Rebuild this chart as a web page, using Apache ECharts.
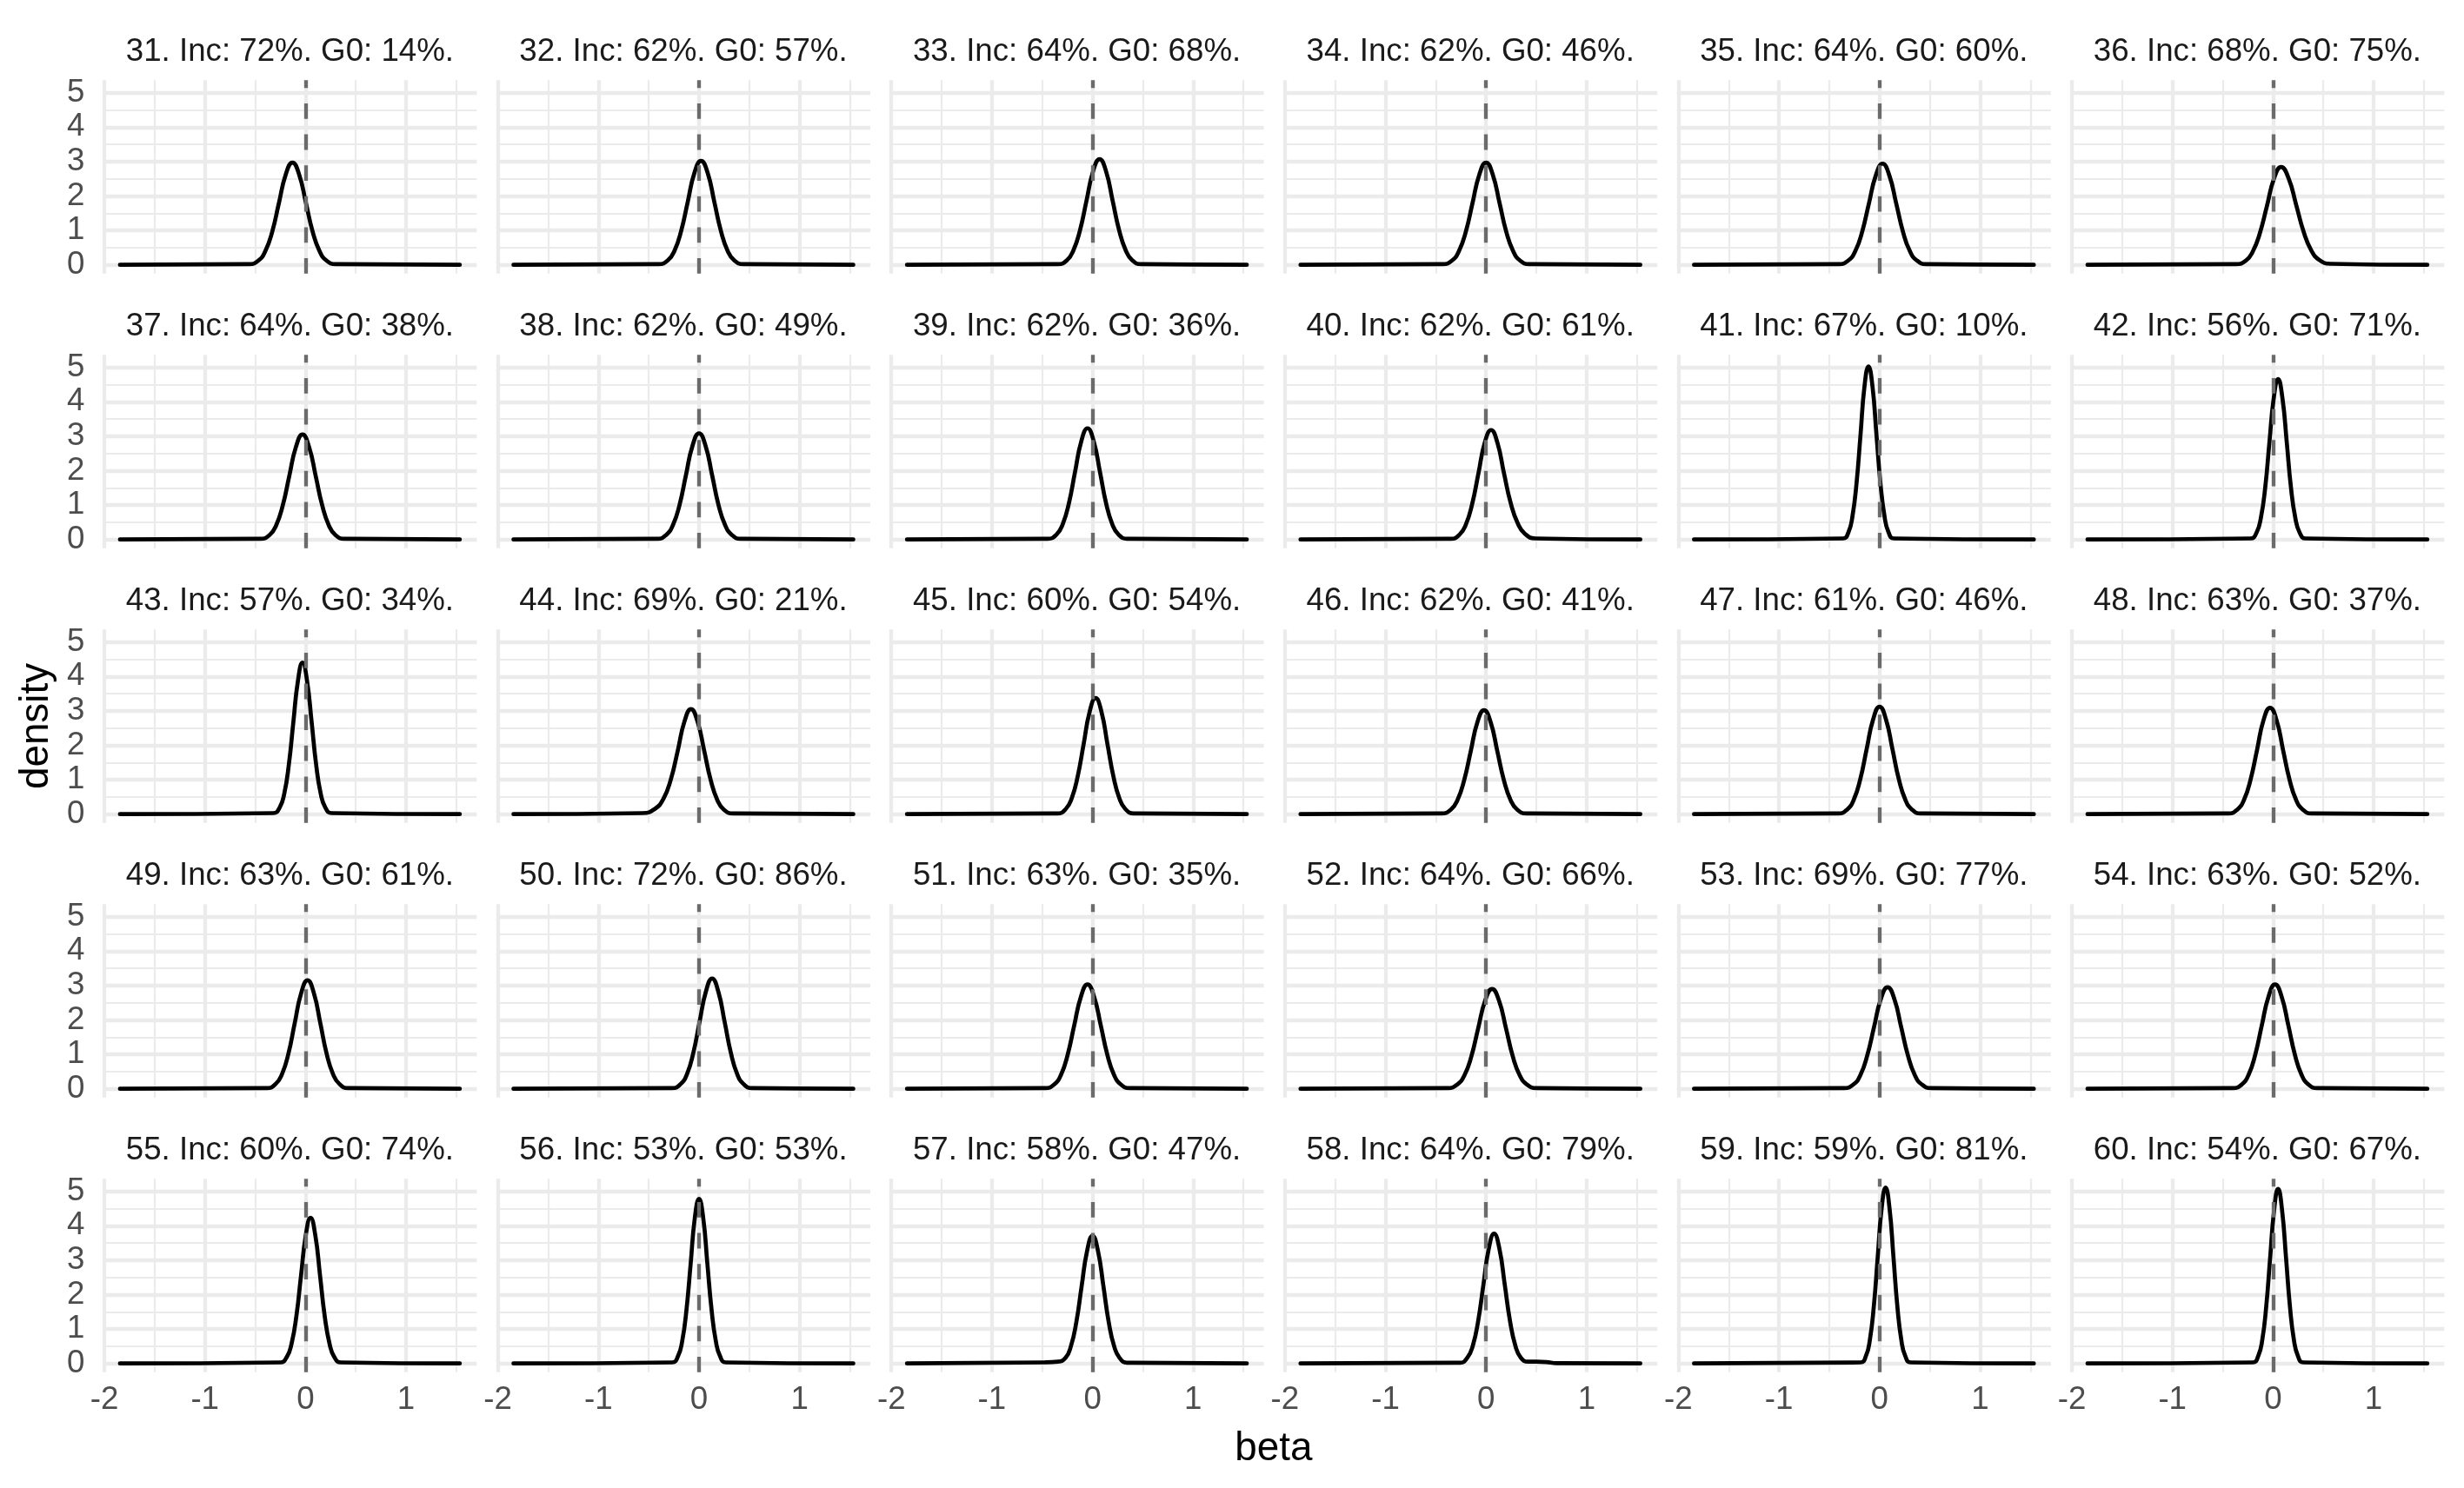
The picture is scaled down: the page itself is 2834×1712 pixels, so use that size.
<!DOCTYPE html>
<html>
<head>
<meta charset="utf-8">
<title>beta densities, items 31-60</title>
<script src="https://cdn.jsdelivr.net/npm/echarts@6/dist/echarts.min.js"></script>
<style>
  html, body { margin: 0; padding: 0; background: #fff; }
  #chart { width: 2834px; height: 1712px; }
</style>
</head>
<body>
<div id="chart"></div>
<script>
// panel labels
const panelIds = [31, 32, 33, 34, 35, 36, 37, 38, 39, 40, 41, 42, 43, 44, 45,
                  46, 47, 48, 49, 50, 51, 52, 53, 54, 55, 56, 57, 58, 59, 60];
const incPct = [72, 62, 64, 62, 64, 68, 64, 62, 62, 62, 67, 56, 57, 69, 60,
                62, 61, 63, 63, 72, 63, 64, 69, 63, 60, 53, 58, 64, 59, 54];
const g0Pct = [14, 57, 68, 46, 60, 75, 38, 49, 36, 61, 10, 71, 34, 21, 54,
               41, 46, 37, 61, 86, 35, 66, 77, 52, 74, 53, 47, 79, 81, 67];

// axis ticks
const betaTicks = [-2, -1, 0, 1];
const betaMinor = [-1.5, -0.5, 0.5, 1.5];
const densityTicks = [0, 1, 2, 3, 4, 5];
const densityMinor = [0.5, 1.5, 2.5, 3.5, 4.5];
const betaRange = [-2.014, 1.703];
const densityRange = [-0.2555, 5.3655];

// every density trace runs over the same beta span, flat at 0 outside the bump
const betaStart = -1.845;
const betaEnd = 1.534;

// density traces (beta, density)
const densityCurves = [
  [[-0.56,0.02],[-0.466,0.13],[-0.399,0.40],[-0.331,0.96],[-0.264,1.80],[-0.197,2.62],[-0.13,2.97],[-0.063,2.62],[0.004,1.80],[0.071,0.96],[0.139,0.40],[0.206,0.13],[0.30,0.02]],
  [[-0.403,0.02],[-0.31,0.13],[-0.244,0.41],[-0.178,0.98],[-0.112,1.83],[-0.046,2.67],[0.02,3.02],[0.086,2.67],[0.152,1.83],[0.218,0.98],[0.284,0.41],[0.35,0.13],[0.443,0.02]],
  [[-0.346,0.02],[-0.255,0.13],[-0.19,0.42],[-0.125,1.00],[-0.06,1.86],[0.005,2.71],[0.07,3.07],[0.135,2.71],[0.2,1.86],[0.265,1.00],[0.33,0.42],[0.395,0.13],[0.486,0.02]],
  [[-0.43,0.02],[-0.336,0.13],[-0.269,0.40],[-0.201,0.96],[-0.134,1.80],[-0.067,2.62],[0,2.97],[0.067,2.62],[0.134,1.80],[0.201,0.96],[0.269,0.40],[0.336,0.13],[0.43,0.02]],
  [[-0.404,0.02],[-0.309,0.13],[-0.241,0.40],[-0.174,0.95],[-0.106,1.78],[-0.038,2.59],[0.03,2.94],[0.098,2.59],[0.166,1.78],[0.234,0.95],[0.301,0.40],[0.369,0.13],[0.464,0.02]],
  [[-0.37,0.02],[-0.271,0.12],[-0.201,0.39],[-0.131,0.92],[-0.06,1.72],[0.01,2.51],[0.08,2.84],[0.155,2.51],[0.23,1.74],[0.305,0.95],[0.38,0.42],[0.46,0.14],[0.57,0.03]],
  [[-0.449,0.02],[-0.357,0.13],[-0.292,0.41],[-0.226,0.99],[-0.161,1.85],[-0.095,2.69],[-0.03,3.05],[0.035,2.69],[0.101,1.85],[0.166,0.99],[0.232,0.41],[0.297,0.13],[0.389,0.02]],
  [[-0.414,0.02],[-0.324,0.14],[-0.259,0.42],[-0.194,1.00],[-0.13,1.87],[-0.065,2.72],[0,3.08],[0.065,2.72],[0.13,1.87],[0.194,1.00],[0.259,0.42],[0.324,0.14],[0.414,0.02]],
  [[-0.445,0.02],[-0.359,0.14],[-0.297,0.44],[-0.235,1.05],[-0.174,1.96],[-0.112,2.85],[-0.05,3.23],[0.012,2.85],[0.074,1.96],[0.135,1.05],[0.197,0.44],[0.259,0.14],[0.345,0.02]],
  [[-0.351,0.02],[-0.264,0.14],[-0.201,0.43],[-0.138,1.03],[-0.075,1.93],[-0.013,2.81],[0.05,3.18],[0.113,2.81],[0.178,1.93],[0.245,1.06],[0.315,0.47],[0.385,0.17],[0.49,0.03]],
  [[-0.364,0.03],[-0.308,0.22],[-0.269,0.68],[-0.229,1.63],[-0.189,3.05],[-0.15,4.44],[-0.11,5.03],[-0.07,4.44],[-0.031,3.05],[0.009,1.63],[0.049,0.68],[0.088,0.22],[0.144,0.03]],
  [[-0.224,0.03],[-0.164,0.20],[-0.121,0.63],[-0.078,1.51],[-0.036,2.83],[0.007,4.11],[0.05,4.66],[0.093,4.11],[0.136,2.83],[0.178,1.51],[0.221,0.63],[0.264,0.20],[0.324,0.03]],
  [[-0.32,0.03],[-0.257,0.19],[-0.211,0.60],[-0.166,1.43],[-0.121,2.67],[-0.075,3.88],[-0.03,4.40],[0.015,3.88],[0.061,2.67],[0.106,1.43],[0.151,0.60],[0.197,0.19],[0.26,0.03]],
  [[-0.56,0.03],[-0.44,0.15],[-0.355,0.44],[-0.28,1.01],[-0.211,1.85],[-0.145,2.69],[-0.08,3.05],[-0.015,2.69],[0.051,1.85],[0.116,0.99],[0.182,0.41],[0.247,0.13],[0.339,0.02]],
  [[-0.349,0.02],[-0.266,0.15],[-0.207,0.46],[-0.148,1.09],[-0.088,2.04],[-0.029,2.97],[0.03,3.37],[0.089,2.97],[0.148,2.04],[0.208,1.09],[0.267,0.46],[0.326,0.15],[0.409,0.02]],
  [[-0.443,0.02],[-0.35,0.13],[-0.284,0.41],[-0.218,0.98],[-0.152,1.83],[-0.086,2.67],[-0.02,3.02],[0.046,2.67],[0.112,1.83],[0.178,0.98],[0.244,0.41],[0.31,0.13],[0.403,0.02]],
  [[-0.409,0.02],[-0.32,0.14],[-0.256,0.42],[-0.192,1.01],[-0.128,1.89],[-0.064,2.75],[0,3.12],[0.064,2.75],[0.128,1.89],[0.192,1.01],[0.256,0.42],[0.32,0.14],[0.409,0.02]],
  [[-0.443,0.02],[-0.353,0.14],[-0.288,0.42],[-0.224,1.00],[-0.159,1.87],[-0.095,2.73],[-0.03,3.09],[0.035,2.73],[0.099,1.87],[0.164,1.00],[0.228,0.42],[0.293,0.14],[0.383,0.02]],
  [[-0.385,0.02],[-0.297,0.14],[-0.233,0.43],[-0.17,1.02],[-0.107,1.91],[-0.043,2.78],[0.02,3.15],[0.083,2.78],[0.147,1.91],[0.21,1.02],[0.273,0.43],[0.337,0.14],[0.425,0.02]],
  [[-0.269,0.02],[-0.182,0.14],[-0.119,0.43],[-0.057,1.04],[0.005,1.94],[0.068,2.82],[0.13,3.20],[0.192,2.82],[0.255,1.94],[0.317,1.04],[0.379,0.43],[0.442,0.14],[0.529,0.02]],
  [[-0.471,0.02],[-0.379,0.13],[-0.313,0.41],[-0.248,0.98],[-0.182,1.84],[-0.116,2.67],[-0.05,3.03],[0.016,2.67],[0.082,1.84],[0.148,0.98],[0.213,0.41],[0.279,0.13],[0.371,0.02]],
  [[-0.38,0.02],[-0.284,0.13],[-0.215,0.39],[-0.146,0.94],[-0.078,1.76],[-0.009,2.56],[0.06,2.90],[0.129,2.56],[0.198,1.76],[0.266,0.94],[0.335,0.39],[0.404,0.13],[0.50,0.02]],
  [[-0.353,0.02],[-0.258,0.13],[-0.19,0.40],[-0.123,0.96],[-0.055,1.79],[0.012,2.60],[0.08,2.95],[0.148,2.60],[0.215,1.79],[0.283,0.96],[0.35,0.40],[0.418,0.13],[0.513,0.02]],
  [[-0.401,0.02],[-0.309,0.13],[-0.243,0.41],[-0.178,0.98],[-0.112,1.84],[-0.046,2.67],[0.02,3.03],[0.086,2.67],[0.152,1.84],[0.218,0.98],[0.283,0.41],[0.349,0.13],[0.441,0.02]],
  [[-0.252,0.03],[-0.186,0.19],[-0.139,0.57],[-0.091,1.37],[-0.044,2.57],[0.003,3.73],[0.05,4.23],[0.097,3.73],[0.144,2.57],[0.191,1.37],[0.239,0.57],[0.286,0.19],[0.352,0.03]],
  [[-0.267,0.03],[-0.209,0.21],[-0.167,0.65],[-0.125,1.55],[-0.083,2.90],[-0.042,4.22],[0,4.78],[0.042,4.22],[0.083,2.90],[0.125,1.55],[0.167,0.65],[0.209,0.21],[0.267,0.03]],
  [[-0.48,0.03],[-0.344,0.05],[-0.269,0.16],[-0.215,0.50],[-0.161,1.20],[-0.108,2.25],[-0.054,3.27],[0,3.71],[0.054,3.27],[0.108,2.25],[0.161,1.20],[0.215,0.50],[0.269,0.16],[0.344,0.02]],
  [[-0.259,0.02],[-0.185,0.17],[-0.132,0.51],[-0.079,1.22],[-0.026,2.29],[0.027,3.33],[0.08,3.77],[0.133,3.33],[0.186,2.29],[0.239,1.22],[0.292,0.51],[0.345,0.17],[0.419,0.05],[0.5,0.05],[0.6,0.04],[0.7,0.01]],
  [[-0.19,0.03],[-0.135,0.22],[-0.096,0.69],[-0.057,1.66],[-0.018,3.10],[0.021,4.51],[0.06,5.11],[0.099,4.51],[0.138,3.10],[0.177,1.66],[0.216,0.69],[0.255,0.22],[0.31,0.03]],
  [[-0.202,0.03],[-0.147,0.22],[-0.107,0.69],[-0.068,1.65],[-0.029,3.07],[0.011,4.47],[0.05,5.07],[0.089,4.47],[0.129,3.07],[0.168,1.65],[0.207,0.69],[0.247,0.22],[0.302,0.03]]
];

// layout (px)
const FONT = '"Liberation Sans", Arial, Helvetica, sans-serif';
const NCOL = 6;
const PANEL_LEFT = 118.4, PANEL_STEP_X = 452.6, PANEL_W = 430;
const PANEL_TOP = 92.2, PANEL_STEP_Y = 316, PANEL_H = 222.6;
const GRID_COLOR = '#EBEBEB';
const MAJOR_W = 4.3, MINOR_W = 2.2;

const chart = echarts.init(document.getElementById('chart'), null, { renderer: 'canvas' });

const grids = [], xAxes = [], yAxes = [], series = [], texts = [];

const intLabel = v => (Math.abs(v - Math.round(v)) < 1e-9 ? String(Math.round(v)) : '');

panelIds.forEach((id, i) => {
  const r = Math.floor(i / NCOL), c = i % NCOL;
  const left = PANEL_LEFT + c * PANEL_STEP_X;
  const top = PANEL_TOP + r * PANEL_STEP_Y;
  const lastRow = r === Math.floor((panelIds.length - 1) / NCOL);

  grids.push({ left: left, top: top, width: PANEL_W, height: PANEL_H, containLabel: false });

  xAxes.push({
    gridIndex: i, type: 'value', min: betaRange[0], max: betaRange[1],
    axisLine: { show: false }, axisTick: { show: false }, splitLine: { show: false },
    axisLabel: {
      show: lastRow, customValues: betaTicks, formatter: intLabel,
      margin: 14, fontSize: 36.7, color: '#4D4D4D', fontFamily: FONT
    }
  });
  yAxes.push({
    gridIndex: i, type: 'value', min: densityRange[0], max: densityRange[1],
    axisLine: { show: false }, axisTick: { show: false }, splitLine: { show: false },
    axisLabel: {
      show: c === 0, customValues: densityTicks, formatter: intLabel,
      margin: 21, fontSize: 36.7, color: '#4D4D4D', fontFamily: FONT
    }
  });

  // background grid (ggplot minimal style)
  const gl = [];
  betaMinor.forEach(v => gl.push({ xAxis: v, lineStyle: { width: MINOR_W } }));
  densityMinor.forEach(v => gl.push({ yAxis: v, lineStyle: { width: MINOR_W } }));
  betaTicks.forEach(v => gl.push({ xAxis: v, lineStyle: { width: MAJOR_W } }));
  densityTicks.forEach(v => gl.push({ yAxis: v, lineStyle: { width: MAJOR_W } }));
  series.push({
    type: 'line', xAxisIndex: i, yAxisIndex: i, silent: true, z: 1,
    data: [[betaTicks[0], densityTicks[0]]], showSymbol: false,
    lineStyle: { opacity: 0 },
    markLine: {
      silent: true, z: 1, symbol: ['none', 'none'], animation: false,
      label: { show: false },
      lineStyle: { color: GRID_COLOR, type: 'solid' },
      data: gl
    }
  });

  // density trace + reference line at 0
  const pts = [[betaStart, 0]].concat(densityCurves[i], [[betaEnd, 0]]);
  series.push({
    type: 'line', xAxisIndex: i, yAxisIndex: i, z: 3,
    data: pts, smooth: 0.5,
    showSymbol: false, silent: true,
    lineStyle: { color: '#000000', width: 4.7, cap: 'round', join: 'round' },
    markLine: {
      silent: true, z: 4, symbol: ['none', 'none'], animation: false,
      label: { show: false },
      lineStyle: { color: '#6B6B6B', width: 4.3, type: [17.8, 17.8] },
      data: [{ xAxis: 0 }]
    }
  });

  texts.push({
    type: 'text', x: left + PANEL_W / 2, y: top - 32, silent: true,
    style: {
      text: id + '. Inc: ' + incPct[i] + '%. G0: ' + g0Pct[i] + '%.',
      fontSize: 36.7, fontFamily: FONT, fill: '#1A1A1A',
      align: 'center', verticalAlign: 'middle', textAlign: 'center', textVerticalAlign: 'middle'
    }
  });
});

const nRows = Math.ceil(panelIds.length / NCOL);
const plotsLeft = PANEL_LEFT;
const plotsRight = PANEL_LEFT + (NCOL - 1) * PANEL_STEP_X + PANEL_W;
const plotsTop = PANEL_TOP;
const plotsBottom = PANEL_TOP + (nRows - 1) * PANEL_STEP_Y + PANEL_H;

texts.push({
  type: 'text', x: (plotsLeft + plotsRight) / 2, y: 1667, silent: true,
  style: {
    text: 'beta', fontSize: 45.8, fontFamily: FONT, fill: '#000000',
    align: 'center', verticalAlign: 'middle', textAlign: 'center', textVerticalAlign: 'middle'
  }
});
texts.push({
  type: 'text', x: 42, y: (plotsTop + plotsBottom) / 2, rotation: Math.PI / 2, silent: true,
  style: {
    text: 'density', fontSize: 45.8, fontFamily: FONT, fill: '#000000',
    align: 'center', verticalAlign: 'middle', textAlign: 'center', textVerticalAlign: 'middle'
  }
});

chart.setOption({
  animation: false,
  backgroundColor: '#ffffff',
  grid: grids,
  xAxis: xAxes,
  yAxis: yAxes,
  series: series,
  graphic: { elements: texts }
});
</script>
</body>
</html>
